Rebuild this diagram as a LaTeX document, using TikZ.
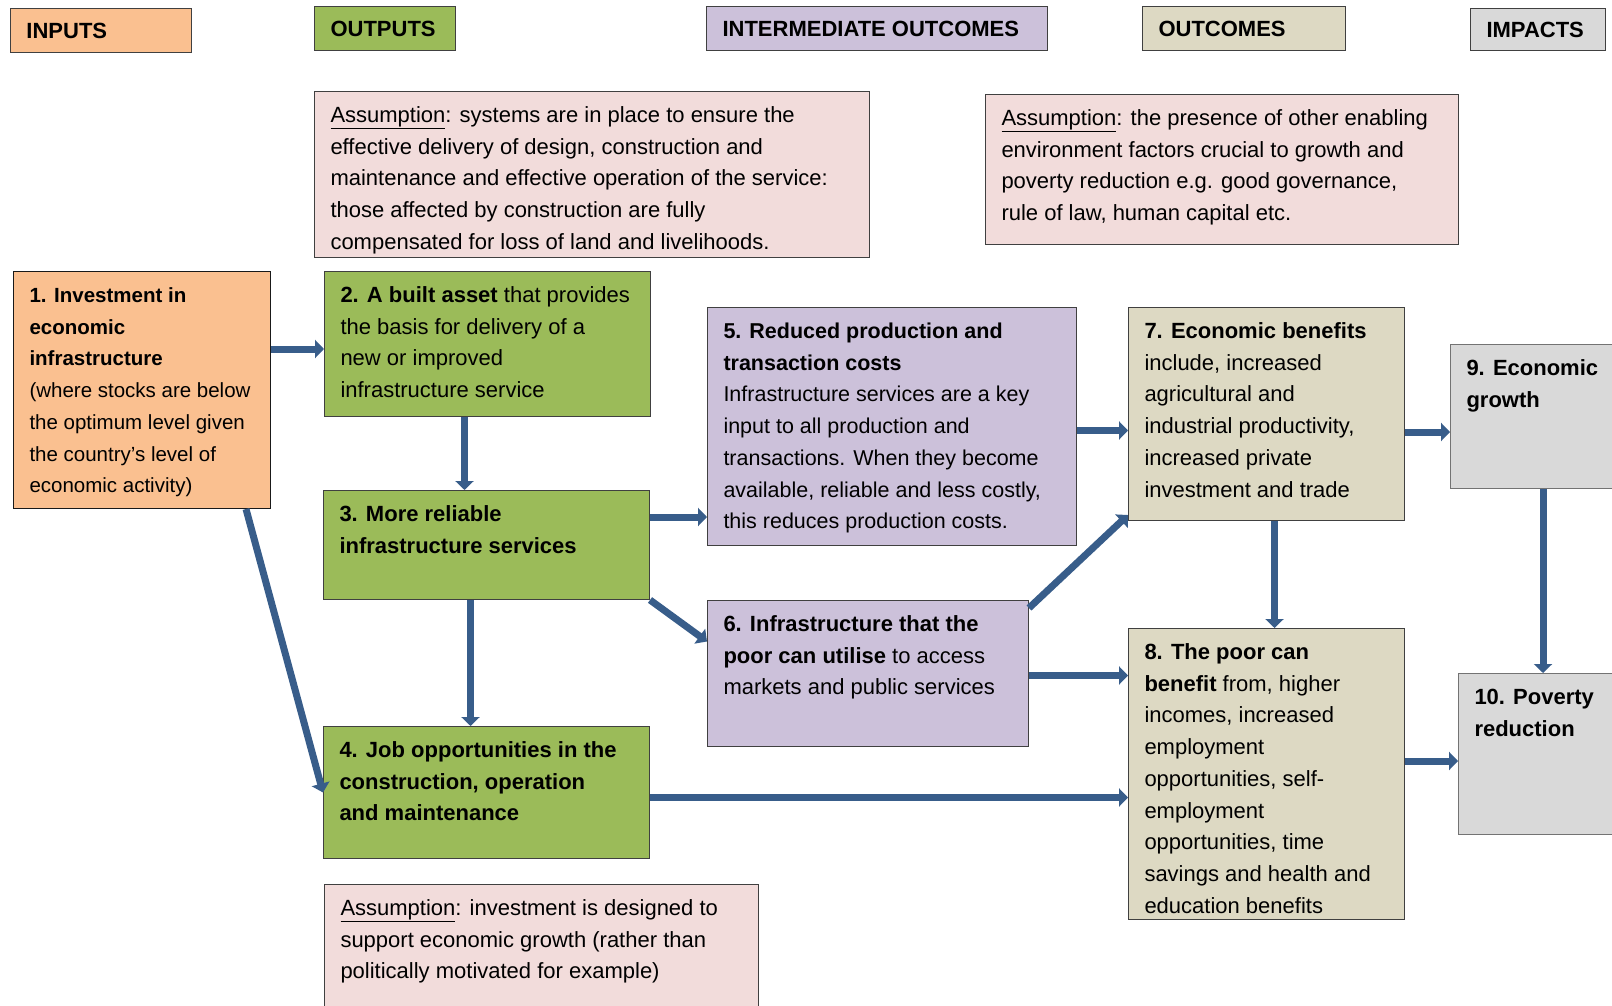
\documentclass[tikz,border=0pt]{standalone}
\usepackage{fontspec}
\setmainfont{Liberation Sans}
\usetikzlibrary{arrows.meta}

\definecolor{inputorange}{HTML}{FAC090}
\definecolor{outputgreen}{HTML}{9BBB59}
\definecolor{interpurple}{HTML}{CCC1DA}
\definecolor{outcometan}{HTML}{DDD9C3}
\definecolor{impactgrey}{HTML}{D9D9D9}
\definecolor{assumpink}{HTML}{F2DCDB}
\definecolor{arrowblue}{HTML}{385D8A}

% width, height, text of a box (text starts top left)
\newcommand{\stagetext}[3]{\parbox[c][#2][t]{#1}{\raggedright\leftskip=16pt\rule{0pt}{31pt}#3}}
% width, height, text of a heading (text centred vertically)
\newcommand{\headtext}[3]{\parbox[c][#2][c]{#1}{\hspace*{16pt}#3}}

\begin{document}
\begin{tikzpicture}[x=1pt, y=-1pt,
    stage/.style={draw=black!75, line width=1pt, inner sep=0pt, anchor=north west,
      font=\fontsize{22}{31.7}\selectfont},
    head/.style={stage, font=\fontsize{22}{24}\selectfont\bfseries},
    flow/.style={draw=arrowblue, line width=7pt, -{Triangle[length=9pt,width=18pt]}}]
  \useasboundingbox (0,0) rectangle (1612,1006);
  \clip (0,0) rectangle (1612,1006);

  % headings
  \node[head, fill=inputorange] (hin) at (10,8) {\headtext{181pt}{44pt}{INPUTS}};
  \node[head, fill=outputgreen] (hout) at (314,6) {\headtext{141pt}{44pt}{OUTPUTS}};
  \node[head, fill=interpurple] (hint) at (706,6) {\headtext{341pt}{44pt}{INTERMEDIATE OUTCOMES}};
  \node[head, fill=outcometan] (hoc) at (1142,6) {\headtext{203pt}{44pt}{OUTCOMES}};
  \node[head, fill=impactgrey] (himp) at (1470,8) {\headtext{135pt}{42pt}{IMPACTS}};

  % assumptions
  \node[stage, fill=assumpink] (as1) at (314,91) {\stagetext{555pt}{166pt}{%
    \underline{Assumption}: systems are in place to ensure the\\
    effective delivery of design, construction and\\
    maintenance and effective operation of the service:\\
    those affected by construction are fully\\
    compensated for loss of land and livelihoods.}};
  \node[stage, fill=assumpink] (as2) at (985,94) {\stagetext{473pt}{150pt}{%
    \underline{Assumption}: the presence of other enabling\\
    environment factors crucial to growth and\\
    poverty reduction e.g. good governance,\\
    rule of law, human capital etc.}};
  \node[stage, fill=assumpink] (as3) at (324,884) {\stagetext{434pt}{150pt}{%
    \underline{Assumption}: investment is designed to\\
    support economic growth (rather than\\
    politically motivated for example)}};

  % inputs and outputs
  \node[stage, fill=inputorange, draw=black!90, font=\fontsize{20.5}{31.7}\selectfont] (b1) at (13,271) {\stagetext{257pt}{237pt}{%
    \textbf{1. Investment in}\\
    \textbf{economic}\\
    \textbf{infrastructure}\\
    (where stocks are below\\
    the optimum level given\\
    the country’s level of\\
    economic activity)}};
  \node[stage, fill=outputgreen] (b2) at (324,271) {\stagetext{326pt}{145pt}{%
    \textbf{2. A built asset} that provides\\
    the basis for delivery of a\\
    new or improved\\
    infrastructure service}};
  \node[stage, fill=outputgreen] (b3) at (323,490) {\stagetext{326pt}{109pt}{%
    \textbf{3. More reliable}\\
    \textbf{infrastructure services}}};
  \node[stage, fill=outputgreen] (b4) at (323,726) {\stagetext{326pt}{132pt}{%
    \textbf{4. Job opportunities in the}\\
    \textbf{construction, operation}\\
    \textbf{and maintenance}}};

  % intermediate outcomes
  \node[stage, fill=interpurple, font=\fontsize{21.5}{31.7}\selectfont] (b5) at (707,307) {\stagetext{369pt}{238pt}{%
    \textbf{5. Reduced production and}\\
    \textbf{transaction costs}\\
    Infrastructure services are a key\\
    input to all production and\\
    transactions. When they become\\
    available, reliable and less costly,\\
    this reduces production costs.}};
  \node[stage, fill=interpurple] (b6) at (707,600) {\stagetext{321pt}{146pt}{%
    \textbf{6. Infrastructure that the}\\
    \textbf{poor can utilise} to access\\
    markets and public services}};

  % outcomes
  \node[stage, fill=outcometan] (b7) at (1128,307) {\stagetext{276pt}{213pt}{%
    \textbf{7. Economic benefits}\\
    include, increased\\
    agricultural and\\
    industrial productivity,\\
    increased private\\
    investment and trade}};
  \node[stage, fill=outcometan] (b8) at (1128,628) {\stagetext{276pt}{291pt}{%
    \textbf{8. The poor can}\\
    \textbf{benefit} from, higher\\
    incomes, increased\\
    employment\\
    opportunities, self-\\
    employment\\
    opportunities, time\\
    savings and health and\\
    education benefits}};

  % impacts
  \node[stage, fill=impactgrey, draw=black!55] (b9) at (1450,344) {\stagetext{190pt}{144pt}{%
    \textbf{9. Economic}\\
    \textbf{growth}}};
  \node[stage, fill=impactgrey, draw=black!55] (b10) at (1458,673) {\stagetext{190pt}{161pt}{%
    \textbf{10. Poverty}\\
    \textbf{reduction}}};

  % links
  \draw[flow] ([yshift=-5pt]b1.east |- b2.west) -- ([yshift=-5pt]b2.west);
  \draw[flow] ([xshift=-23pt]b2.south) -- ([xshift=-23pt]b2.south |- b3.north);
  \draw[flow] ([xshift=-16pt]b3.south) -- ([xshift=-16pt]b3.south |- b4.north);
  \draw[flow] ([xshift=-25pt]b1.south east) -- (b4.west);
  \draw[flow] ([yshift=28pt]b3.east) -- ([yshift=28pt]b3.east -| b5.west);
  \draw[flow] (b3.south east) -- ([yshift=32pt]b6.west);
  \draw[flow] ([yshift=-5pt]b4.east) -- ([yshift=-5pt]b4.east -| b8.west);
  \draw[flow] ([yshift=-4pt]b5.east) -- ([yshift=-4pt]b5.east -| b7.west);
  \draw[flow] ([yshift=-8pt]b6.north east) -- ([yshift=6pt]b7.south west);
  \draw[flow] ([yshift=-2pt]b6.east) -- ([yshift=-2pt]b6.east -| b8.west);
  \draw[flow] ([xshift=8pt]b7.south) -- ([xshift=8pt]b7.south |- b8.north);
  \draw[flow] ([yshift=-18pt]b7.east) -- ([yshift=-18pt]b7.east -| b9.west);
  \draw[flow] ([xshift=93pt]b9.south west) -- ([xshift=93pt]b9.south west |- b10.north);
  \draw[flow] ([yshift=13pt]b8.east) -- ([yshift=13pt]b8.east -| b10.west);
\end{tikzpicture}
\end{document}
